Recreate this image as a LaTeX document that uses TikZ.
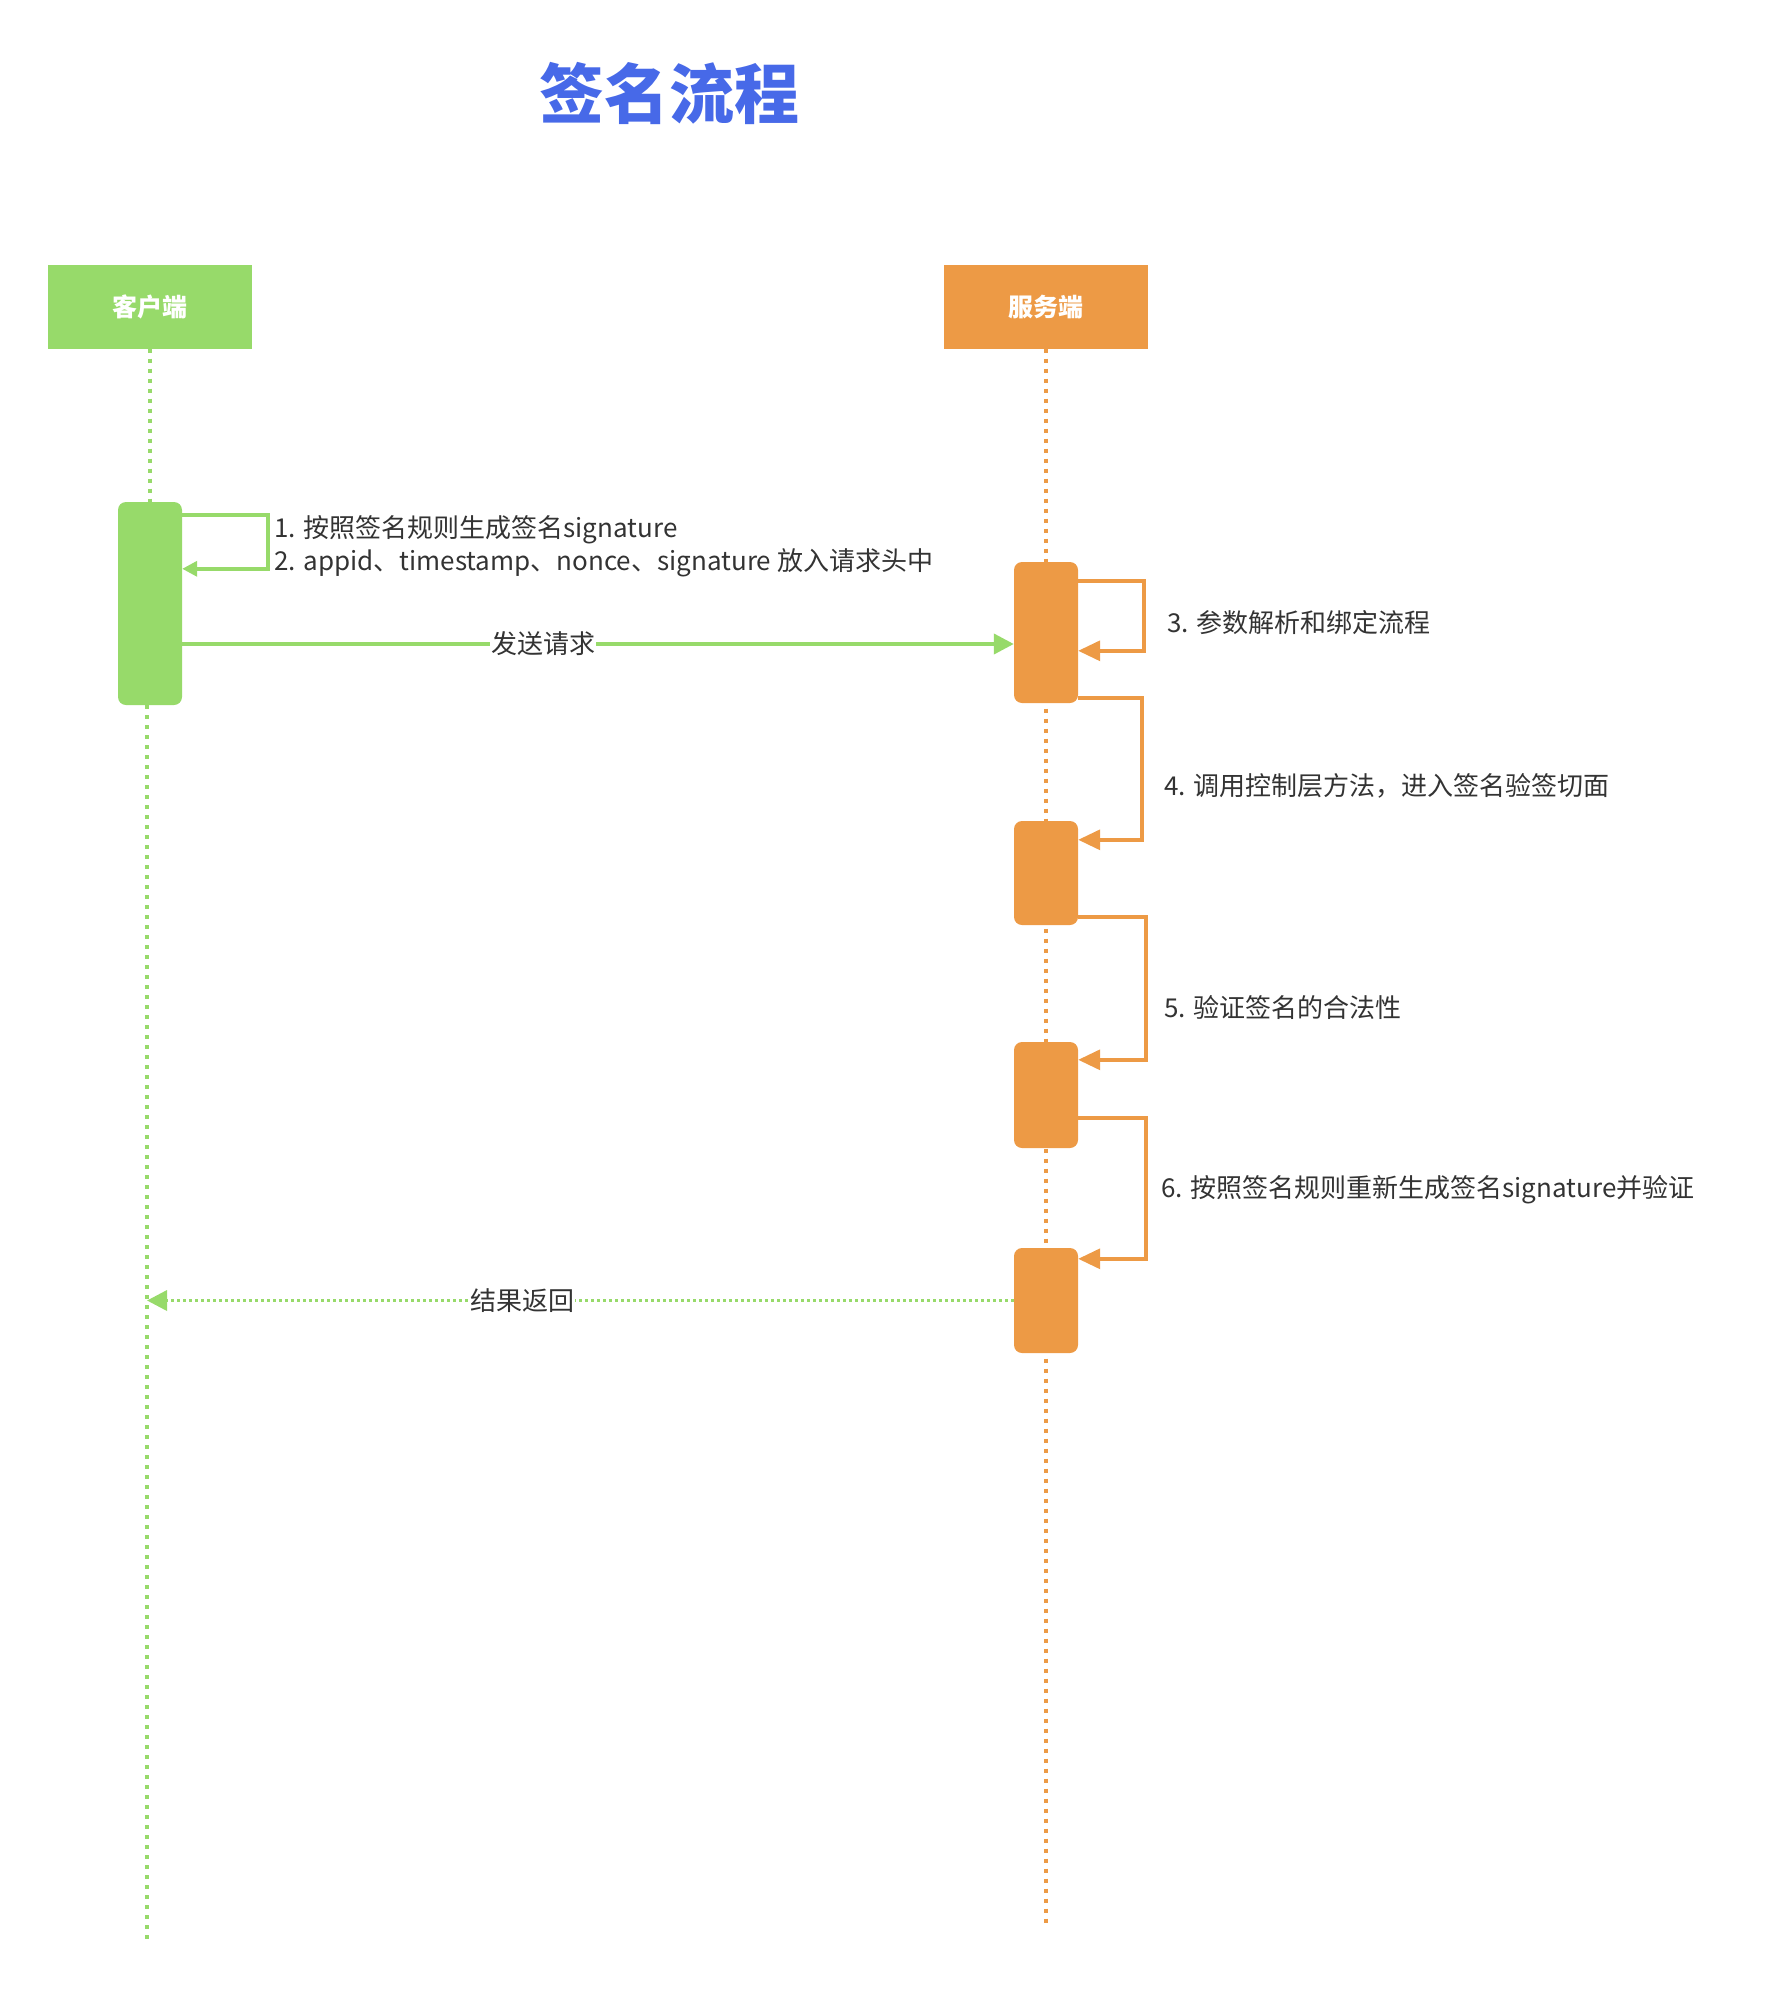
\documentclass[tikz,border=0pt]{standalone}
\usepackage{fontspec}
\setmainfont{Noto Sans CJK SC}
\usetikzlibrary{arrows.meta}
\definecolor{cgreen}{HTML}{97DA6A}
\definecolor{corange}{HTML}{ED9A45}
\definecolor{ctitle}{HTML}{4769E8}
\definecolor{ctext}{HTML}{333333}
\begin{document}
\begin{tikzpicture}[x=1pt,y=-1pt,
  header/.style={rectangle,minimum width=204pt,minimum height=83pt,inner sep=0pt,text=white,font=\fontsize{25}{30}\selectfont\bfseries},
  act/.style={rectangle,rounded corners=8pt,minimum width=64pt,inner sep=0pt,fill=#1},
  lbl/.style={anchor=west,inner sep=0pt,text=ctext,font=\fontsize{26}{30}\selectfont},
  midlbl/.style={fill=white,inner sep=1pt,text=ctext,font=\fontsize{26}{30}\selectfont},
  gdot/.style={draw=cgreen,line width=4pt,dash pattern=on 4pt off 6pt},
  odot/.style={draw=corange,line width=4pt,dash pattern=on 4pt off 6pt},
  gline/.style={draw=cgreen,line width=4pt},
  oline/.style={draw=corange,line width=3.5pt},
  gtip/.style={-{Triangle[length=20pt,width=20pt]}},
  otip/.style={-{Triangle[length=22pt,width=20pt]}},
]
\useasboundingbox (0,0) rectangle (1774,1993);
% title
\node[text=ctitle,font=\fontsize{65}{70}\selectfont\bfseries] (title) at (669,93) {签名流程};
% headers
\node[header,fill=cgreen] (client) at (150,307) {客户端};
\node[header,fill=corange] (server) at (1046,307) {服务端};
% lifeline ends
\coordinate (cbot) at (147,1942);
\coordinate (sbot) at (1046,1927);
% server lifeline (behind)
\draw[odot] (server.south) -- (sbot);
% activations
\node[act=cgreen,minimum height=203pt] (ca) at (150,603.5) {};
\node[act=corange,minimum height=141pt] (sa1) at (1046,632.5) {};
\node[act=corange,minimum height=104pt] (sa2) at (1046,873) {};
\node[act=corange,minimum height=106pt] (sa3) at (1046,1095) {};
\node[act=corange,minimum height=105pt] (sa4) at (1046,1300.5) {};
% client lifeline
\draw[gdot] (client.south) -- (ca.north);
\draw[gdot] ([xshift=-3pt]ca.south) -- (cbot);
% loop 1
\draw[draw=cgreen,line width=3.5pt,-{Triangle[length=15pt,width=15pt]}] ([yshift=-13pt]ca.north east) -- ++(86,0) |- ([yshift=-67pt]ca.north east);
\node[lbl] (t1) at (274,530) {1. 按照签名规则生成签名signature};
\node[lbl] (t2) at (274,563) {2. appid、timestamp、nonce、signature 放入请求头中};
% send request
\draw[gline,gtip] ([yshift=-40.5pt]ca.east) -- ([yshift=-40.5pt]ca.east -| sa1.west) node[midlbl,pos=0.434] (send) {发送请求};
% loop 3
\draw[oline,otip] ([yshift=-19pt]sa1.north east) -- ++(66,0) |- ([yshift=-89pt]sa1.north east);
\node[lbl] (t3) at (1167,623) {3. 参数解析和绑定流程};
% arrow 4
\draw[oline,otip] ([yshift=-136pt]sa1.north east) -- ++(64,0) |- ([yshift=-19pt]sa2.north east);
\node[lbl] (t4) at (1164,786) {4. 调用控制层方法，进入签名验签切面};
% arrow 5
\draw[oline,otip] ([yshift=-96pt]sa2.north east) -- ++(68,0) |- ([yshift=-18pt]sa3.north east);
\node[lbl] (t5) at (1164,1008) {5. 验证签名的合法性};
% arrow 6
\draw[oline,otip] ([yshift=-76pt]sa3.north east) -- ++(68,0) |- ([yshift=-11pt]sa4.north east);
\node[lbl] (t6) at (1161,1190) {6. 按照签名规则重新生成签名signature并验证};
% return
\draw[draw=cgreen,line width=3.5pt,dash pattern=on 3pt off 3pt,-{Triangle[length=20pt,width=20pt]}] (sa4.west) -- (cbot |- sa4.west) node[midlbl,pos=0.567] (ret) {结果返回};
\end{tikzpicture}
\end{document}
